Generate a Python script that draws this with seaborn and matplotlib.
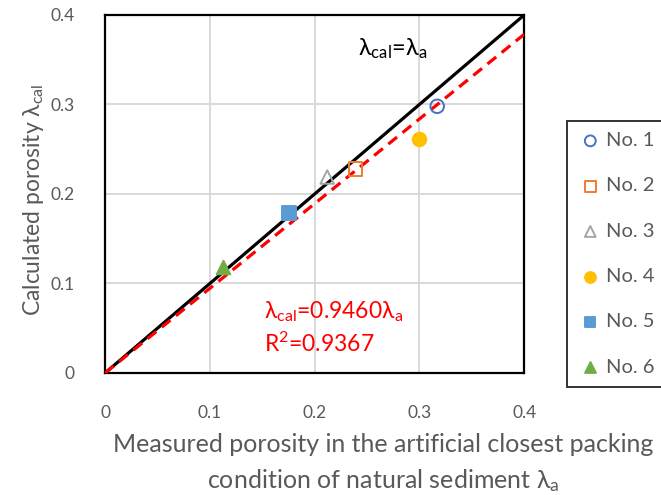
import matplotlib
matplotlib.use("Agg")
import matplotlib.pyplot as plt
import seaborn as sns
import numpy as np
import pandas as pd

# Measured vs. calculated porosity for six sediment samples
samples = ["No. 1", "No. 2", "No. 3", "No. 4", "No. 5", "No. 6"]
measured = [0.317, 0.239, 0.212, 0.300, 0.176, 0.113]
calculated = [0.298, 0.228, 0.219, 0.262, 0.179, 0.118]
fit_slope = 0.9460
r_squared = 0.9367
ticks = [0, 0.1, 0.2, 0.3, 0.4]
tick_labels = ["0", "0.1", "0.2", "0.3", "0.4"]

marker_styles = {
    "No. 1": dict(marker="o", facecolor="none", edgecolor="#4472C4"),
    "No. 2": dict(marker="s", facecolor="none", edgecolor="#ED7D31"),
    "No. 3": dict(marker="^", facecolor="none", edgecolor="#A5A5A5"),
    "No. 4": dict(marker="o", facecolor="#FFC000", edgecolor="#FFC000"),
    "No. 5": dict(marker="s", facecolor="#5B9BD5", edgecolor="#5B9BD5"),
    "No. 6": dict(marker="^", facecolor="#70AD47", edgecolor="#70AD47"),
}

sns.set_theme(style="white")
plt.rcParams["font.family"] = ["Lato", "DejaVu Sans"]
plt.rcParams["mathtext.fontset"] = "custom"
plt.rcParams["mathtext.rm"] = "Lato"
plt.rcParams["mathtext.it"] = "Lato"

TEXT_GRAY = "#595959"

df = pd.DataFrame({"sample": samples, "measured": measured, "calculated": calculated})

fig = plt.figure(figsize=(6.61, 4.95), dpi=100)
ax = fig.add_axes([0.159, 0.2465, 0.634, 0.7232])

# 1:1 line and fitted regression through origin
line_x = np.array([0, 0.4])
ax.plot(line_x, line_x, color="black", lw=2.3, zorder=2)
ax.plot(line_x, fit_slope * line_x, color="#FF0000", lw=2.3, ls=(0, (3.5, 2.2)), zorder=3)

for name in samples:
    st = marker_styles[name]
    sub = df[df["sample"] == name]
    sns.scatterplot(data=sub, x="measured", y="calculated", ax=ax,
                    marker=st["marker"], s=95, facecolor=st["facecolor"],
                    edgecolor=st["edgecolor"], linewidth=1.4, label=name, zorder=4)

ax.set_xlim(0, 0.4)
ax.set_ylim(0, 0.4)
ax.set_xticks(ticks)
ax.set_yticks(ticks)
ax.set_xticklabels(tick_labels, fontsize=12.5, color=TEXT_GRAY)
ax.set_yticklabels(tick_labels, fontsize=12.5, color=TEXT_GRAY)
ax.tick_params(axis="x", length=0, pad=23)
ax.tick_params(axis="y", length=0, pad=22)
ax.grid(True, color="#D9D9D9", lw=1.4)
ax.set_axisbelow(True)
for sp in ax.spines.values():
    sp.set_color("black")
    sp.set_linewidth(1.6)

ax.set_xlabel("Measured porosity in the artificial closest packing\ncondition of natural sediment λ$_{\\mathrm{a}}$",
              fontsize=18, color=TEXT_GRAY, linespacing=1.5, va="top")
ax.xaxis.set_label_coords(0.663, -0.168)
ax.set_ylabel("Calculated porosity λ$_{\\mathrm{cal}}$", fontsize=16.5,
              color=TEXT_GRAY, va="center")
ax.yaxis.set_label_coords(-0.17, 0.483)

ax.text(0.241, 0.362, "λ$_{\\mathrm{cal}}$=λ$_{\\mathrm{a}}$",
        fontsize=17, color="black", ha="left", va="center")
ax.text(0.152, 0.068, f"λ$_{{\\mathrm{{cal}}}}$={fit_slope:.4f}λ$_{{\\mathrm{{a}}}}$",
        fontsize=16.5, color="#FF0000", ha="left", va="center")
ax.text(0.152, 0.033, f"R$^{{2}}$={r_squared:.4f}",
        fontsize=16.5, color="#FF0000", ha="left", va="center")

leg = ax.legend(loc="upper left", bbox_to_anchor=(0.858, 0.7556, 0.1475, 0.0),
                bbox_transform=fig.transFigure, mode="expand", frameon=True,
                fancybox=False, fontsize=14.5, labelspacing=1.4, handletextpad=0.2,
                borderpad=0.55, handlelength=1.2, borderaxespad=0, markerscale=0.8)
leg.get_frame().set_edgecolor("black")
leg.get_frame().set_linewidth(1.4)
for t in leg.get_texts():
    t.set_color(TEXT_GRAY)

fig.savefig("out.png", dpi=100)
